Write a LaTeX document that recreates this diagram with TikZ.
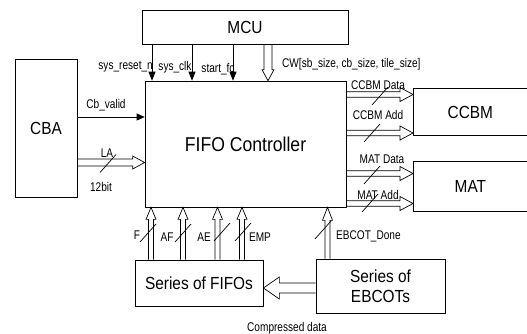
\documentclass[tikz,border=0pt]{standalone}
\usepackage{fontspec}
\setmainfont{Liberation Sans}[FakeStretch=0.88]
\newfontfamily\lblfamily{Liberation Sans}[FakeStretch=0.8]
\usetikzlibrary{arrows.meta,calc}
\newcommand\fatarrow[5]{%
  \coordinate (fah) at ($(#2)!#5!(#1)$);
  \draw[conn] ($(#1)!#3!90:(#2)$) -- ($(fah)!#3!-90:(#1)$) -- ($(fah)!#4!-90:(#1)$) -- (#2) -- ($(fah)!#4!90:(#1)$) -- ($(fah)!#3!90:(#1)$) -- ($(#1)!#3!-90:(#2)$);
}
\tikzset{
  box/.style={draw, line width=0.7pt, inner sep=0pt, font=\fontsize{17.5}{20}\selectfont},
  conn/.style={draw, line width=0.7pt},
  sig/.style={draw, line width=0.7pt, -{Triangle[length=9pt,width=7pt]}},
  lbl/.style={inner sep=0pt, font=\lblfamily\fontsize{12.6}{14}\selectfont},
  slash/.style={draw, line width=0.7pt},
}
\begin{document}
\begin{tikzpicture}[x=1pt,y=-1pt]
\useasboundingbox (0,0) rectangle (527,333);
% boxes
\node[box, minimum width=206pt, minimum height=34pt] (mcu) at (245,27) {MCU};
\node[box, minimum width=201pt, minimum height=126pt, font=\fontsize{20}{24}\selectfont] (ctrl) at (245.5,144) {FIFO Controller};
\node[box, minimum width=62pt, minimum height=138pt] (cba) at (46,128) {CBA};
\node[box, draw=none, minimum width=114pt, minimum height=46pt, anchor=west] (ccbm) at (413,112) {CCBM};
\draw[conn] (ccbm.north east) -- (ccbm.north west) -- (ccbm.south west) -- (ccbm.south east);
\node[box, draw=none, minimum width=114pt, minimum height=49pt, anchor=west] (mat) at (413,186.5) {MAT};
\draw[conn] (mat.north east) -- (mat.north west) -- (mat.south west) -- (mat.south east);
\node[box, minimum width=128pt, minimum height=46pt] (fifo) at (199,283) {Series of FIFOs};
\node[box, minimum width=129pt, minimum height=54pt, align=center, font=\fontsize{17.5}{20}\selectfont] (ebcot) at (380.5,286) {Series of\\EBCOTs};
% MCU signals
\draw[sig] (mcu.south -| 152,0) -- (ctrl.north -| 152,0);
\draw[sig] (mcu.south -| 192,0) -- (ctrl.north -| 192,0);
\draw[sig] (mcu.south -| 233,0) -- (ctrl.north -| 233,0);
\coordinate (cwS) at (mcu.south -| 268,0);
\coordinate (cwT) at (ctrl.north -| 268,0);
\fatarrow{cwS}{cwT}{4pt}{6pt}{11pt}
% CBA signals
\draw[sig, -{Triangle[length=8pt,width=7pt]}] (cba.east |- 0,117) -- (ctrl.west |- 0,117);
\coordinate (laS) at (cba.east |- 0,162.5);
\coordinate (laT) at (ctrl.west |- 0,162.5);
\fatarrow{laS}{laT}{3.5pt}{6.5pt}{12pt}
% right side
\coordinate (cdS) at (ctrl.east |- 0,94.5);
\coordinate (cdT) at (ccbm.west |- 0,94.5);
\fatarrow{cdS}{cdT}{2.8pt}{7pt}{13pt}
\coordinate (caS) at (ctrl.east |- 0,133);
\coordinate (caT) at (ccbm.west |- 0,133);
\fatarrow{caS}{caT}{2.8pt}{7pt}{13pt}
\coordinate (mdS) at (ctrl.east |- 0,173.5);
\coordinate (mdT) at (mat.west |- 0,173.5);
\fatarrow{mdS}{mdT}{2.8pt}{7pt}{13pt}
\coordinate (maS) at (ctrl.east |- 0,203.5);
\coordinate (maT) at (mat.west |- 0,203.5);
\fatarrow{maS}{maT}{2.8pt}{7pt}{13pt}
% bottom
\coordinate (fS) at (fifo.north -| 151,0);
\coordinate (fT) at (ctrl.south -| 151,0);
\fatarrow{fS}{fT}{2.5pt}{5pt}{12pt}
\coordinate (afS) at (fifo.north -| 183,0);
\coordinate (afT) at (ctrl.south -| 183,0);
\fatarrow{afS}{afT}{2.5pt}{5pt}{12pt}
\coordinate (aeS) at (fifo.north -| 217.5,0);
\coordinate (aeT) at (ctrl.south -| 217.5,0);
\fatarrow{aeS}{aeT}{2.5pt}{5pt}{12pt}
\coordinate (emS) at (fifo.north -| 242,0);
\coordinate (emT) at (ctrl.south -| 242,0);
\fatarrow{emS}{emT}{2.5pt}{5pt}{12pt}
\coordinate (ebS) at (ebcot.north -| 327.5,0);
\coordinate (ebT) at (ctrl.south -| 327.5,0);
\fatarrow{ebS}{ebT}{2.5pt}{5pt}{13pt}
\coordinate (cpS) at (ebcot.west |- 0,288);
\coordinate (cpT) at (fifo.east |- 0,288);
\fatarrow{cpS}{cpT}{5pt}{11pt}{16pt}
% slashes
\foreach \sx/\sy in {108/163.5,380/96,372/133,372/175,370/203,148/233,183/233,222/232,243/232,323/230}
  \draw[slash] (\sx-8,\sy+9) -- (\sx+8,\sy-9);
% labels
\node[lbl, anchor=east] (l1) at (153,67) {sys\_reset\_n};
\node[lbl] (l2) at (175,67) {sys\_clk};
\node[lbl] (l3) at (218,69) {start\_fc};
\node[lbl, anchor=west] (l4) at (282,64) {CW[sb\_size, cb\_size, tile\_size]};
\node[lbl] (l5) at (106,105) {Cb\_valid};
\node[lbl] (l6) at (107,153) {LA};
\node[lbl] (l7) at (101,187) {12bit};
\node[lbl] (l8) at (378,85) {CCBM Data};
\node[lbl] (l9) at (378,115) {CCBM Add};
\node[lbl] (l10) at (382,159) {MAT Data};
\node[lbl] (l11) at (378,195) {MAT Add};
\node[lbl] (l12) at (137,235) {F};
\node[lbl] (l13) at (167,237) {AF};
\node[lbl] (l14) at (204,237) {AE};
\node[lbl] (l15) at (260,237) {EMP};
\node[lbl, anchor=west] (l16) at (336,236) {EBCOT\_Done};
\node[lbl] (l17) at (287,328) {Compressed data};
\end{tikzpicture}
\end{document}
